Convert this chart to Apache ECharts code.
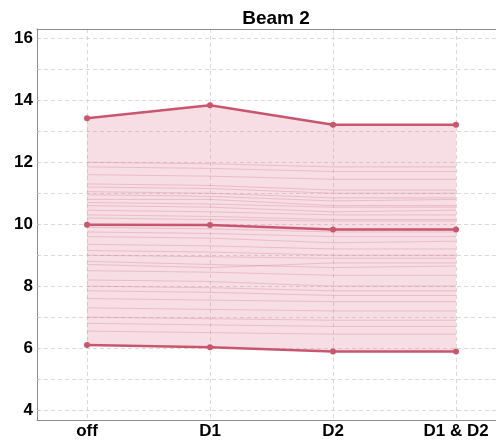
<!DOCTYPE html>
<html>
<head>
<meta charset="utf-8">
<script src="https://cdn.jsdelivr.net/npm/echarts@6/dist/echarts.min.js"></script>
<style>
  html, body { margin: 0; padding: 0; background: #fff; }
  #main { width: 496px; height: 444px; }
</style>
</head>
<body>
<div id="main"></div>
<script>
// categories on x
var cats = ['off', 'D1', 'D2', 'D1 & D2']
// summary lines
var maxVals = [13.42, 13.84, 13.21, 13.21]
var medVals = [9.98, 9.97, 9.83, 9.83]
var minVals = [6.10, 6.03, 5.89, 5.89]
// individual thin lines (off, D1, D2, D1 & D2)
var thin = [
  [12.0, 11.95, 11.85, 11.85],
  [11.85, 11.8, 11.7, 11.7],
  [11.6, 11.55, 11.45, 11.45],
  [11.3, 11.25, 11.1, 11.1],
  [11.2, 11.15, 11.0, 11.0],
  [11.05, 11.0, 10.85, 10.85],
  [10.95, 10.9, 10.75, 10.8],
  [10.8, 10.8, 10.6, 10.6],
  [10.7, 10.65, 10.55, 10.55],
  [10.6, 10.55, 10.4, 10.45],
  [10.45, 10.4, 10.3, 10.3],
  [10.3, 10.25, 10.15, 10.15],
  [10.2, 10.15, 10.1, 10.1],
  [9.9, 9.85, 9.75, 9.75],
  [9.75, 9.7, 9.6, 9.6],
  [9.6, 9.55, 9.4, 9.45],
  [9.35, 9.3, 9.2, 9.2],
  [9.15, 9.1, 9.0, 9.0],
  [9.0, 8.95, 8.9, 8.9],
  [8.8, 8.7, 8.6, 8.65],
  [8.7, 8.6, 8.75, 8.75],
  [8.5, 8.45, 8.35, 8.35],
  [8.2, 8.15, 8.0, 8.0],
  [8.0, 7.95, 7.85, 7.85],
  [7.85, 7.8, 7.7, 7.7],
  [7.6, 7.55, 7.5, 7.5],
  [7.3, 7.25, 7.2, 7.2],
  [7.0, 6.95, 6.9, 6.9],
  [6.8, 6.75, 6.7, 6.7],
  [6.55, 6.5, 6.45, 6.45]
]
var yTicks = [4, 5, 6, 7, 8, 9, 10, 11, 12, 13, 14, 15, 16]
var yLabels = [4, 6, 8, 10, 12, 14, 16]

var lineColor = '#c9566f'
var pts = function(arr) { return arr.map(function(v, i) { return [i, v] }) }
var xIdx = cats.map(function(c, i) { return i })

var series = []
// band between min and max, drawn as one polygon
series.push({
  type: 'custom', data: [[0, 0]], silent: true, z: 1,
  renderItem: function(params, api) {
    var poly = []
    maxVals.forEach(function(v, i) { poly.push(api.coord([i, v])) })
    for (var i = minVals.length - 1; i >= 0; i--) poly.push(api.coord([i, minVals[i]]))
    return {
      type: 'polygon', shape: { points: poly },
      style: { fill: 'rgba(225,125,150,0.26)', stroke: 'none' }
    }
  }
})
thin.forEach(function(row) {
  series.push({
    type: 'line', data: pts(row), symbol: 'none', silent: true, z: 2,
    lineStyle: { color: 'rgba(205,110,135,0.3)', width: 1 }
  })
})
;[maxVals, medVals, minVals].forEach(function(arr) {
  series.push({
    type: 'line', data: pts(arr), symbol: 'circle', symbolSize: 6, z: 3,
    itemStyle: { color: lineColor },
    lineStyle: { color: lineColor, width: 2.5 }
  })
})

var chart = echarts.init(document.getElementById('main'))
chart.setOption({
  animation: false,
  title: {
    text: 'Beam 2', left: 271, top: 4, textAlign: 'center',
    textStyle: { fontFamily: 'Liberation Sans', fontWeight: 'bold', fontSize: 19, color: '#000' }
  },
  grid: { left: 37, top: 29, right: 0, bottom: 24, containLabel: false },
  xAxis: [{
    type: 'value', min: -0.4065, max: 3.325,
    axisLine: { onZero: false, lineStyle: { color: '#8c8c8c', width: 1 } },
    axisTick: { show: false, customValues: xIdx },
    axisLabel: {
      customValues: xIdx, margin: 3,
      formatter: function(v) { return cats[Math.round(v)] },
      fontFamily: 'Liberation Sans', fontWeight: 'bold', fontSize: 17, color: '#000'
    },
    splitLine: { show: true, lineStyle: { color: '#d9d9d9', type: [4, 3] } }
  }, {
    type: 'value', position: 'top', min: -0.4065, max: 3.325,
    axisLine: { show: true, onZero: false, lineStyle: { color: '#8c8c8c', width: 1 } },
    axisTick: { show: false }, axisLabel: { show: false }, splitLine: { show: false }
  }],
  yAxis: {
    type: 'value', min: 3.68, max: 16.3,
    axisLine: { show: true, onZero: false, lineStyle: { color: '#8c8c8c', width: 1 } },
    axisTick: { show: true, inside: true, length: 2, customValues: yTicks, lineStyle: { color: '#bbb' } },
    axisLabel: {
      customValues: yLabels, margin: 4,
      fontFamily: 'Liberation Sans', fontWeight: 'bold', fontSize: 17, color: '#000'
    },
    splitLine: { show: true, lineStyle: { color: '#d9d9d9', type: [4, 3] } }
  },
  series: series
})
</script>
</body>
</html>
